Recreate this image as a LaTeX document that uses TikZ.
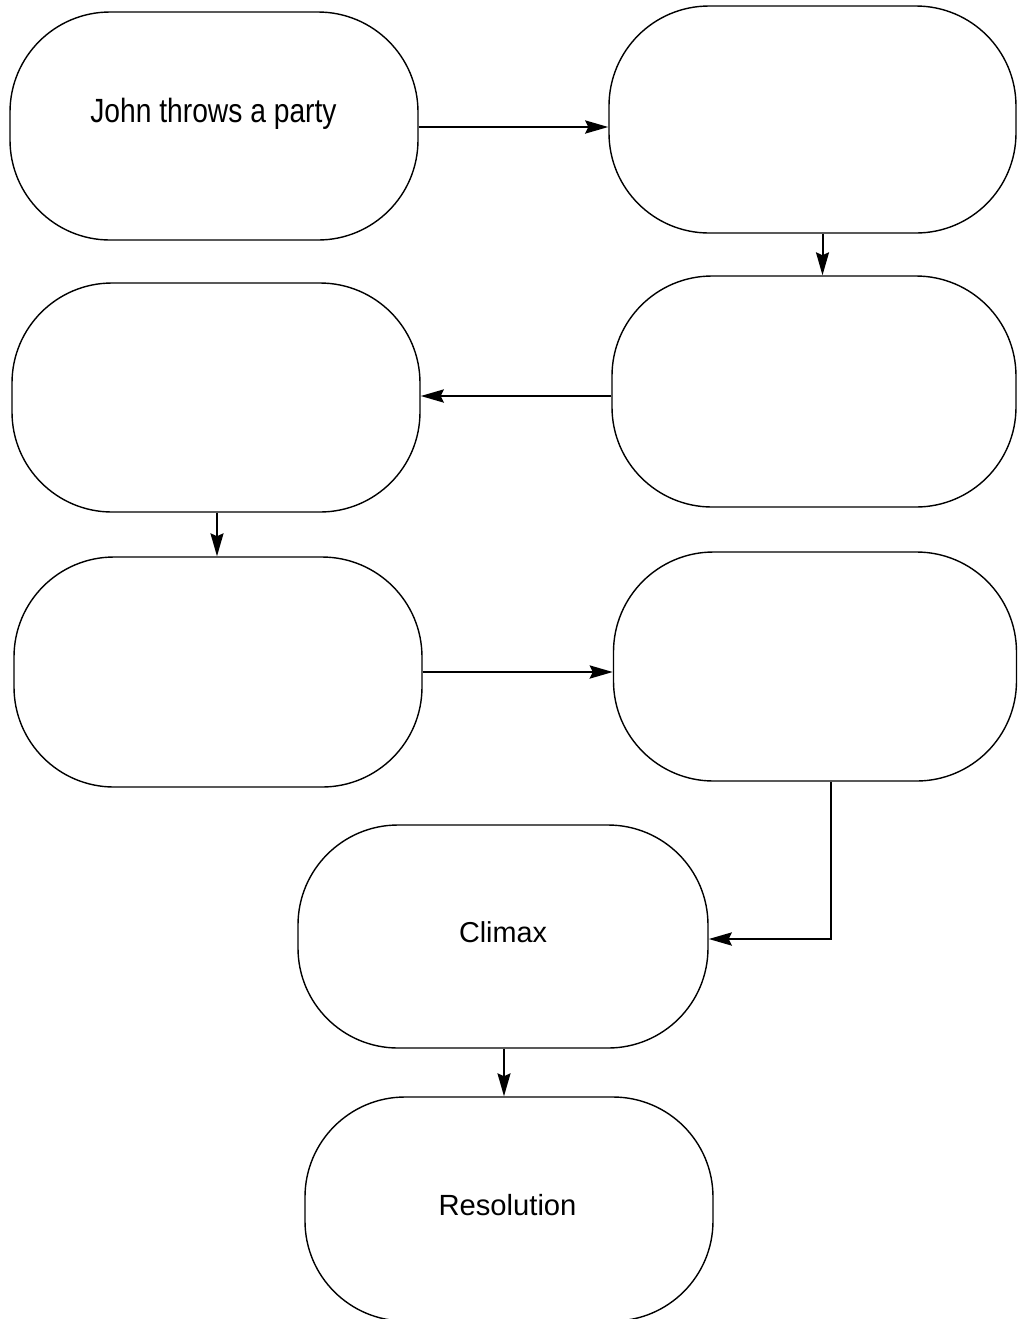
\documentclass[tikz,border=0pt]{standalone}
\usepackage{fontspec}
\setmainfont{Liberation Sans}
\usepackage{graphicx}
\usetikzlibrary{arrows.meta,calc}
\tikzset{
  stadium/.style={draw=black, line width=0.7pt, rounded corners=50pt, inner sep=0pt, rectangle},
  flow/.style={line width=1.0pt, -{Stealth[length=11.5pt,width=6.5pt,inset=1.5pt]}},
  hflow/.style={flow, line width=1.4pt},
  lbl/.style={anchor=base, inner sep=0pt, font=\fontsize{14.4}{17}\selectfont}
}
\begin{document}
\begin{tikzpicture}[x=0.5pt,y=-0.5pt]
\useasboundingbox (0,0) rectangle (1018,1319);
% boxes
\node[stadium, minimum width=204pt, minimum height=114pt] (B1) at (214,126) {};
\node[stadium, minimum width=203.5pt, minimum height=113.5pt] (B2) at (812.5,119.5) {};
\node[stadium, minimum width=202pt, minimum height=115.5pt] (B3) at (814,391.5) {};
\node[stadium, minimum width=204pt, minimum height=114.5pt] (B4) at (216,397.5) {};
\node[stadium, minimum width=204pt, minimum height=115pt] (B5) at (218,672) {};
\node[stadium, minimum width=201.5pt, minimum height=114.5pt] (B6) at (815,666.5) {};
\node[stadium, minimum width=205pt, minimum height=111.5pt] (B7) at (503,936.5) {};
\node[stadium, minimum width=204pt, minimum height=112pt] (B8) at (509,1209) {};
% texts
\node[lbl, font=\fontsize{16.8}{20}\selectfont] (T1) at (213.5,122) {\scalebox{0.84}[1]{John throws a party}};
\node[lbl] (T7) at (503,942) {Climax};
\node[lbl, font=\fontsize{14.6}{17}\selectfont] (T8) at (507.5,1215) {Resolution};
% connectors
\coordinate (c6) at (831,939);
\draw[hflow] ([yshift=-0.5pt]B1.east) -- ([yshift=-0.5pt]B1.east -| B2.west);
\draw[flow] ([xshift=5pt]B2.south) -- ([xshift=5pt]B2.south |- B3.north);
\draw[hflow] (B3.west |- 0,396) -- (B4.east |- 0,396);
\draw[flow] ([xshift=0.5pt]B4.south) -- ([xshift=0.5pt]B4.south |- B5.north);
\draw[hflow] (B5.east) -- (B5.east -| B6.west);
\draw[hflow, line join=miter] (B6.south -| c6) -- (c6) -- (c6 -| B7.east);
\draw[flow] ([xshift=0.5pt]B7.south) -- ([xshift=0.5pt]B7.south |- B8.north);
\end{tikzpicture}
\end{document}
